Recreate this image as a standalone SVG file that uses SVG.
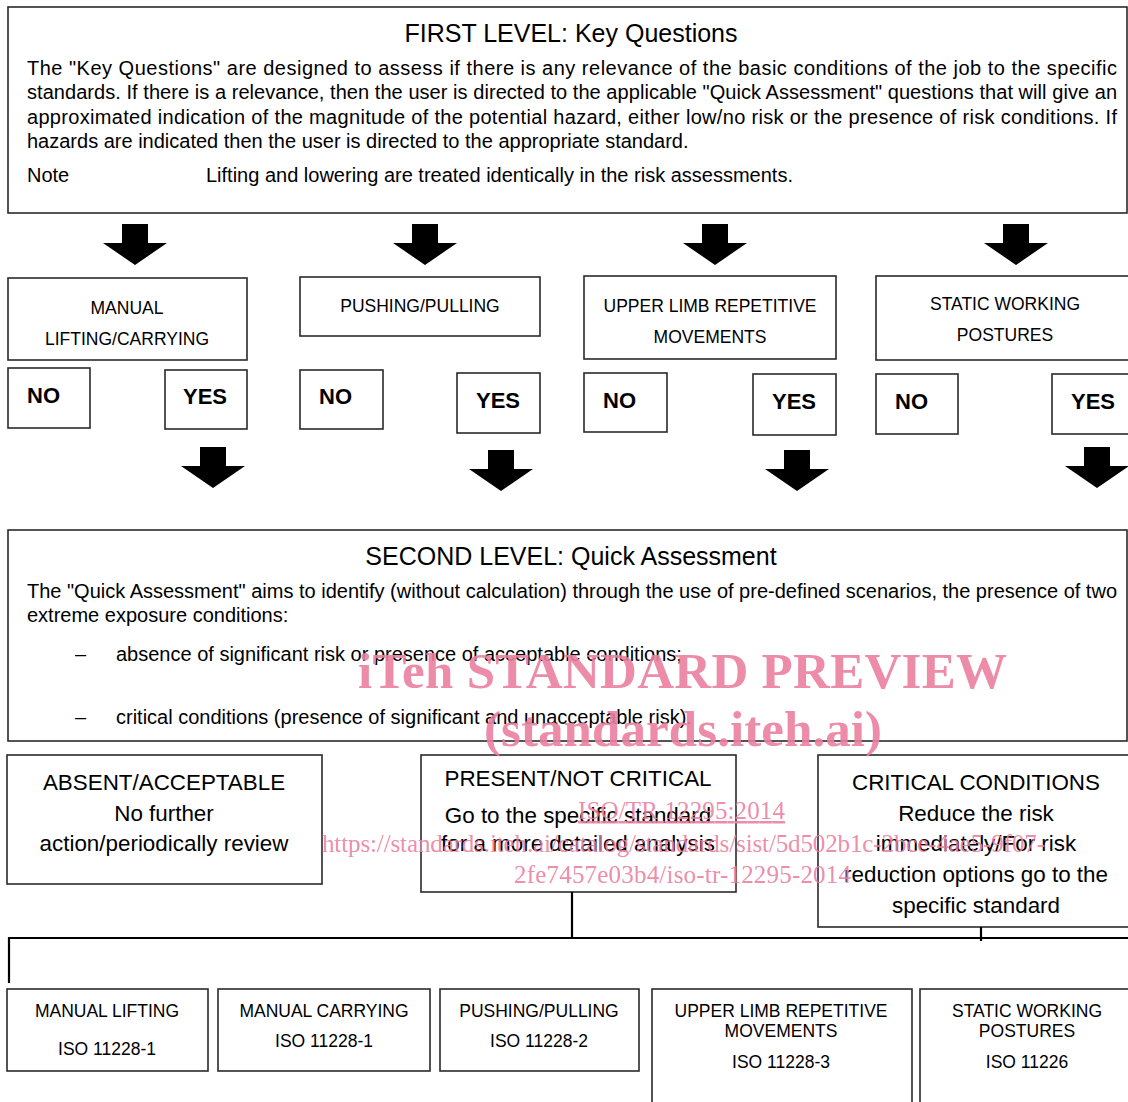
<svg xmlns="http://www.w3.org/2000/svg" width="1128" height="1102" viewBox="0 0 1128 1102">
<style>
  .box { fill: #ffffff; stroke: #2a2a2a; stroke-width: 1.6; }
  .t { font-family: "Liberation Sans", Arial, sans-serif; fill: #000; }
  .title { font-size: 25px; }
  .body { font-size: 20px; }
  .lbl { font-size: 17.5px; text-anchor: middle; }
  .yn { font-size: 22px; font-weight: bold; }
  .out { font-size: 22.4px; text-anchor: middle; }
  .line { stroke: #000; stroke-width: 2.2; fill: none; }
  .arrow { fill: #000; }
  .wm { font-family: "Liberation Serif", "Times New Roman", serif; fill: #ea7f9f; fill-opacity: 0.9; }
</style>
<defs>
  <path id="blk" d="M-13,0 H13 V19 H32 L0,41 L-32,19 H-13 Z"/>
</defs>
<rect width="1128" height="1102" fill="#ffffff"/>

<g id="first-level">
  <rect class="box" x="8" y="7" width="1119" height="206"/>
  <text class="t title" x="571" y="42" text-anchor="middle">FIRST LEVEL: Key Questions</text>
  <text class="t body" x="27" y="75" textLength="1090" lengthAdjust="spacing">The "Key Questions" are designed to assess if there is any relevance of the basic conditions of the job to the specific</text>
  <text class="t body" x="27" y="99" textLength="1090" lengthAdjust="spacing">standards. If there is a relevance, then the user is directed to the applicable "Quick Assessment" questions that will give an</text>
  <text class="t body" x="27" y="124" textLength="1090" lengthAdjust="spacing">approximated indication of the magnitude of the potential hazard, either low/no risk or the presence of risk conditions. If</text>
  <text class="t body" x="27" y="148">hazards are indicated then the user is directed to the appropriate standard.</text>
  <text class="t body" x="27" y="182">Note</text>
  <text class="t body" x="206" y="182">Lifting and lowering are treated identically in the risk assessments.</text>
</g>

<g id="manual-lifting-carrying">
  <rect class="box" x="8" y="278" width="239" height="82"/>
  <text class="t lbl" x="127" y="314">MANUAL</text>
  <text class="t lbl" x="127" y="345">LIFTING/CARRYING</text>
</g>
<g id="pushing-pulling">
  <rect class="box" x="300" y="277" width="240" height="59"/>
  <text class="t lbl" x="420" y="312">PUSHING/PULLING</text>
</g>
<g id="upper-limb">
  <rect class="box" x="584" y="276" width="252" height="83"/>
  <text class="t lbl" x="710" y="312">UPPER LIMB REPETITIVE</text>
  <text class="t lbl" x="710" y="343">MOVEMENTS</text>
</g>
<g id="static-working">
  <rect class="box" x="876" y="276" width="270" height="84"/>
  <text class="t lbl" x="1005" y="310">STATIC WORKING</text>
  <text class="t lbl" x="1005" y="341">POSTURES</text>
</g>

<g id="no-1"><rect class="box" x="8" y="368" width="82" height="60"/><text class="t yn" x="27" y="403">NO</text></g>
<g id="yes-1"><rect class="box" x="165" y="370" width="82" height="59"/><text class="t yn" x="205" y="404" text-anchor="middle">YES</text></g>
<g id="no-2"><rect class="box" x="300" y="370" width="83" height="59"/><text class="t yn" x="319" y="404">NO</text></g>
<g id="yes-2"><rect class="box" x="457" y="373" width="83" height="60"/><text class="t yn" x="498" y="408" text-anchor="middle">YES</text></g>
<g id="no-3"><rect class="box" x="584" y="373" width="83" height="59"/><text class="t yn" x="603" y="408">NO</text></g>
<g id="yes-3"><rect class="box" x="753" y="374" width="83" height="61"/><text class="t yn" x="794" y="409" text-anchor="middle">YES</text></g>
<g id="no-4"><rect class="box" x="876" y="374" width="82" height="60"/><text class="t yn" x="895" y="409">NO</text></g>
<g id="yes-4"><rect class="box" x="1052" y="374" width="90" height="60"/><text class="t yn" x="1093" y="409" text-anchor="middle">YES</text></g>

<g id="second-level">
  <rect class="box" x="8" y="530" width="1119" height="211"/>
  <text class="t title" x="571" y="565" text-anchor="middle">SECOND LEVEL: Quick Assessment</text>
  <text class="t body" x="27" y="598" textLength="1090" lengthAdjust="spacing">The "Quick Assessment" aims to identify (without calculation) through the use of pre-defined scenarios, the presence of two</text>
  <text class="t body" x="27" y="622">extreme exposure conditions:</text>
  <text class="t body" x="75" y="661">–</text>
  <text class="t body" x="116" y="661">absence of significant risk or presence of acceptable conditions;</text>
  <text class="t body" x="75" y="724">–</text>
  <text class="t body" x="116" y="724">critical conditions (presence of significant and unacceptable risk).</text>
</g>

<g id="absent-acceptable">
  <rect class="box" x="7" y="755" width="315" height="129"/>
  <text class="t out" x="164" y="790">ABSENT/ACCEPTABLE</text>
  <text class="t out" x="164" y="821">No further</text>
  <text class="t out" x="164" y="851">action/periodically review</text>
</g>
<g id="present-not-critical">
  <rect class="box" x="421" y="755" width="315" height="137"/>
  <text class="t out" x="578" y="786">PRESENT/NOT CRITICAL</text>
  <text class="t out" x="578" y="823">Go to the specific standard</text>
  <text class="t out" x="578" y="851">for a more detailed analysis</text>
</g>
<g id="critical-conditions">
  <rect class="box" x="818" y="755" width="330" height="172"/>
  <text class="t out" x="976" y="790">CRITICAL CONDITIONS</text>
  <text class="t out" x="976" y="821">Reduce the risk</text>
  <text class="t out" x="976" y="851">immediately/For risk</text>
  <text class="t out" x="976" y="882">reduction options go to the</text>
  <text class="t out" x="976" y="913">specific standard</text>
</g>

<g id="iso-manual-lifting">
  <rect class="box" x="7" y="989" width="201" height="82"/>
  <text class="t lbl" x="107" y="1017">MANUAL LIFTING</text>
  <text class="t lbl" x="107" y="1055">ISO 11228-1</text>
</g>
<g id="iso-manual-carrying">
  <rect class="box" x="218" y="989" width="212" height="82"/>
  <text class="t lbl" x="324" y="1017">MANUAL CARRYING</text>
  <text class="t lbl" x="324" y="1047">ISO 11228-1</text>
</g>
<g id="iso-pushing-pulling">
  <rect class="box" x="440" y="989" width="199" height="82"/>
  <text class="t lbl" x="539" y="1017">PUSHING/PULLING</text>
  <text class="t lbl" x="539" y="1047">ISO 11228-2</text>
</g>
<g id="iso-upper-limb">
  <rect class="box" x="652" y="989" width="260" height="130"/>
  <text class="t lbl" x="781" y="1017">UPPER LIMB REPETITIVE</text>
  <text class="t lbl" x="781" y="1037">MOVEMENTS</text>
  <text class="t lbl" x="781" y="1068">ISO 11228-3</text>
</g>
<g id="iso-static-working">
  <rect class="box" x="920" y="989" width="230" height="130"/>
  <text class="t lbl" x="1027" y="1017">STATIC WORKING</text>
  <text class="t lbl" x="1027" y="1037">POSTURES</text>
  <text class="t lbl" x="1027" y="1068">ISO 11226</text>
</g>

<g id="connectors">
  <use href="#blk" class="arrow" x="135" y="224"/>
  <use href="#blk" class="arrow" x="425" y="224"/>
  <use href="#blk" class="arrow" x="715" y="224"/>
  <use href="#blk" class="arrow" x="1016" y="224"/>
  <use href="#blk" class="arrow" x="213" y="447"/>
  <use href="#blk" class="arrow" x="501" y="450"/>
  <use href="#blk" class="arrow" x="797" y="450"/>
  <use href="#blk" class="arrow" x="1097" y="447"/>
  <path class="line" d="M572,892 V938"/>
  <path class="line" d="M8,938 H1128"/>
  <path class="line" d="M9,937 V983"/>
  <path class="line" d="M981,927 V941"/>
</g>

<g id="watermark">
  <text class="wm" x="358" y="688" font-size="51" font-weight="bold" textLength="649">iTeh STANDARD PREVIEW</text>
  <text class="wm" x="484" y="746" font-size="51" font-weight="bold" textLength="398">(standards.iteh.ai)</text>
  <text class="wm" x="578" y="819" font-size="25" text-decoration="underline" textLength="207">ISO/TR 12295:2014</text>
  <text class="wm" x="322" y="852" font-size="25" textLength="723">https://standards.iteh.ai/catalog/standards/sist/5d502b1c-2bce-4ae5-9f07-</text>
  <text class="wm" x="514" y="883" font-size="25" textLength="337">2fe7457e03b4/iso-tr-12295-2014</text>
</g>
</svg>
